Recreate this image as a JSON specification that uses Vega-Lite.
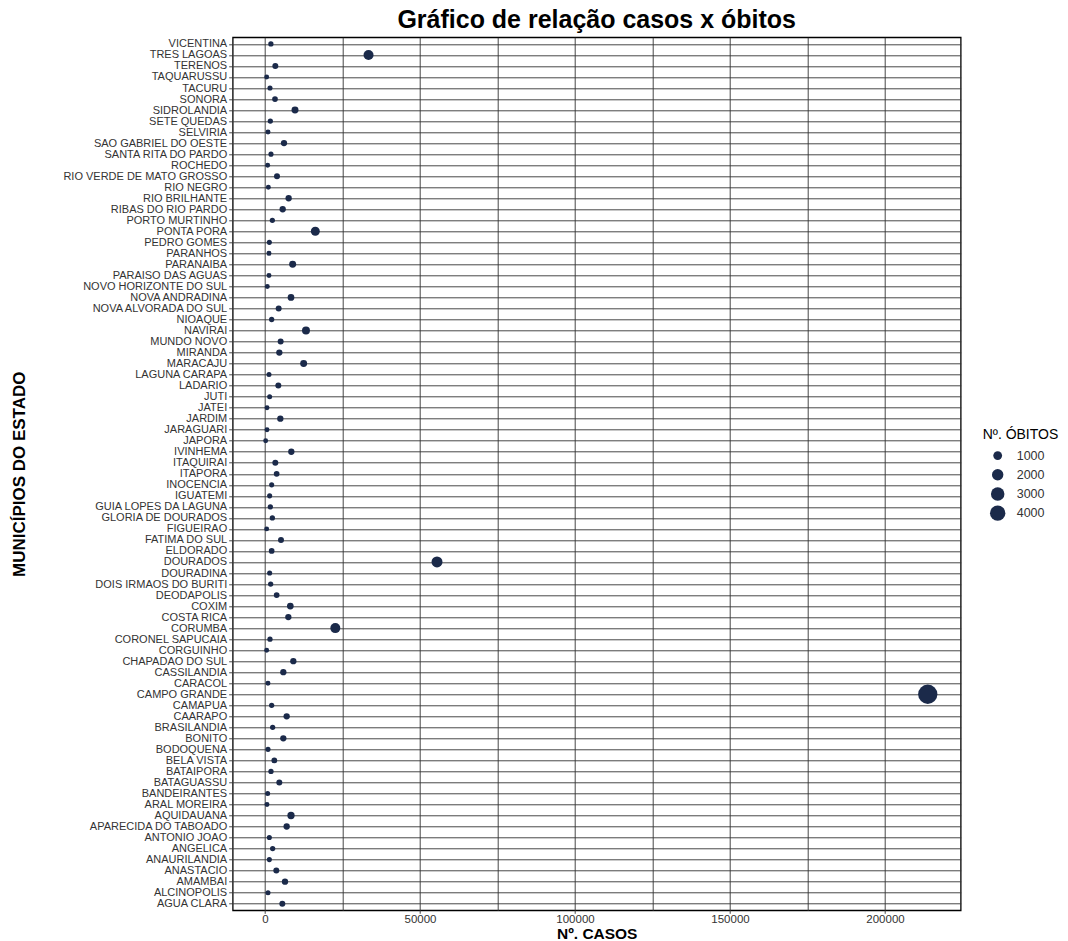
{
  "$schema": "https://vega.github.io/schema/vega-lite/v6.json",
  "width": 728,
  "height": 873,
  "autosize": {"type": "none"},
  "padding": {"left": 232.7, "top": 37.3, "right": 107, "bottom": 31},
  "background": "white",
  "title": {"text": "Gráfico de relação casos x óbitos", "fontSize": 25, "font": "Liberation Sans", "fontWeight": "bold", "color": "black", "anchor": "middle", "offset": 4},
  "data": {"values": [
    {"municipio": "VICENTINA", "casos": 1900, "obitos": 75},
    {"municipio": "TRES LAGOAS", "casos": 33400, "obitos": 1430},
    {"municipio": "TERENOS", "casos": 3330, "obitos": 226},
    {"municipio": "TAQUARUSSU", "casos": 540, "obitos": 10},
    {"municipio": "TACURU", "casos": 1610, "obitos": 40},
    {"municipio": "SONORA", "casos": 3225, "obitos": 160},
    {"municipio": "SIDROLANDIA", "casos": 9680, "obitos": 470},
    {"municipio": "SETE QUEDAS", "casos": 1720, "obitos": 75},
    {"municipio": "SELVIRIA", "casos": 970, "obitos": 10},
    {"municipio": "SAO GABRIEL DO OESTE", "casos": 6130, "obitos": 300},
    {"municipio": "SANTA RITA DO PARDO", "casos": 1930, "obitos": 40},
    {"municipio": "ROCHEDO", "casos": 860, "obitos": 10},
    {"municipio": "RIO VERDE DE MATO GROSSO", "casos": 3870, "obitos": 226},
    {"municipio": "RIO NEGRO", "casos": 1080, "obitos": 10},
    {"municipio": "RIO BRILHANTE", "casos": 7630, "obitos": 300},
    {"municipio": "RIBAS DO RIO PARDO", "casos": 5700, "obitos": 300},
    {"municipio": "PORTO MURTINHO", "casos": 2370, "obitos": 75},
    {"municipio": "PONTA PORA", "casos": 16230, "obitos": 1075},
    {"municipio": "PEDRO GOMES", "casos": 1400, "obitos": 40},
    {"municipio": "PARANHOS", "casos": 1290, "obitos": 15},
    {"municipio": "PARANAIBA", "casos": 8920, "obitos": 470},
    {"municipio": "PARAISO DAS AGUAS", "casos": 1290, "obitos": 15},
    {"municipio": "NOVO HORIZONTE DO SUL", "casos": 750, "obitos": 10},
    {"municipio": "NOVA ANDRADINA", "casos": 8390, "obitos": 400},
    {"municipio": "NOVA ALVORADA DO SUL", "casos": 4410, "obitos": 226},
    {"municipio": "NIOAQUE", "casos": 2150, "obitos": 75},
    {"municipio": "NAVIRAI", "casos": 13220, "obitos": 755},
    {"municipio": "MUNDO NOVO", "casos": 5050, "obitos": 226},
    {"municipio": "MIRANDA", "casos": 4620, "obitos": 300},
    {"municipio": "MARACAJU", "casos": 12470, "obitos": 470},
    {"municipio": "LAGUNA CARAPA", "casos": 1290, "obitos": 20},
    {"municipio": "LADARIO", "casos": 4300, "obitos": 226},
    {"municipio": "JUTI", "casos": 1500, "obitos": 20},
    {"municipio": "JATEI", "casos": 650, "obitos": 10},
    {"municipio": "JARDIM", "casos": 4950, "obitos": 300},
    {"municipio": "JARAGUARI", "casos": 650, "obitos": 10},
    {"municipio": "JAPORA", "casos": 215, "obitos": 5},
    {"municipio": "IVINHEMA", "casos": 8490, "obitos": 300},
    {"municipio": "ITAQUIRAI", "casos": 3330, "obitos": 226},
    {"municipio": "ITAPORA", "casos": 3760, "obitos": 160},
    {"municipio": "INOCENCIA", "casos": 2150, "obitos": 40},
    {"municipio": "IGUATEMI", "casos": 1500, "obitos": 40},
    {"municipio": "GUIA LOPES DA LAGUNA", "casos": 1720, "obitos": 75},
    {"municipio": "GLORIA DE DOURADOS", "casos": 2370, "obitos": 75},
    {"municipio": "FIGUEIRAO", "casos": 540, "obitos": 5},
    {"municipio": "FATIMA DO SUL", "casos": 5160, "obitos": 226},
    {"municipio": "ELDORADO", "casos": 2150, "obitos": 160},
    {"municipio": "DOURADOS", "casos": 55490, "obitos": 1830},
    {"municipio": "DOURADINA", "casos": 1500, "obitos": 40},
    {"municipio": "DOIS IRMAOS DO BURITI", "casos": 1830, "obitos": 75},
    {"municipio": "DEODAPOLIS", "casos": 3760, "obitos": 160},
    {"municipio": "COXIM", "casos": 8170, "obitos": 400},
    {"municipio": "COSTA RICA", "casos": 7530, "obitos": 300},
    {"municipio": "CORUMBA", "casos": 22680, "obitos": 1430},
    {"municipio": "CORONEL SAPUCAIA", "casos": 1610, "obitos": 75},
    {"municipio": "CORGUINHO", "casos": 540, "obitos": 10},
    {"municipio": "CHAPADAO DO SUL", "casos": 9140, "obitos": 300},
    {"municipio": "CASSILANDIA", "casos": 5910, "obitos": 300},
    {"municipio": "CARACOL", "casos": 970, "obitos": 15},
    {"municipio": "CAMPO GRANDE", "casos": 213800, "obitos": 6570},
    {"municipio": "CAMAPUA", "casos": 2150, "obitos": 75},
    {"municipio": "CAARAPO", "casos": 6990, "obitos": 300},
    {"municipio": "BRASILANDIA", "casos": 2470, "obitos": 75},
    {"municipio": "BONITO", "casos": 5910, "obitos": 300},
    {"municipio": "BODOQUENA", "casos": 970, "obitos": 40},
    {"municipio": "BELA VISTA", "casos": 3010, "obitos": 160},
    {"municipio": "BATAIPORA", "casos": 1930, "obitos": 75},
    {"municipio": "BATAGUASSU", "casos": 4620, "obitos": 226},
    {"municipio": "BANDEIRANTES", "casos": 860, "obitos": 20},
    {"municipio": "ARAL MOREIRA", "casos": 650, "obitos": 15},
    {"municipio": "AQUIDAUANA", "casos": 8390, "obitos": 550},
    {"municipio": "APARECIDA DO TABOADO", "casos": 6990, "obitos": 300},
    {"municipio": "ANTONIO JOAO", "casos": 1400, "obitos": 40},
    {"municipio": "ANGELICA", "casos": 2470, "obitos": 75},
    {"municipio": "ANAURILANDIA", "casos": 1400, "obitos": 40},
    {"municipio": "ANASTACIO", "casos": 3650, "obitos": 226},
    {"municipio": "AMAMBAI", "casos": 6450, "obitos": 300},
    {"municipio": "ALCINOPOLIS", "casos": 970, "obitos": 20},
    {"municipio": "AGUA CLARA", "casos": 5590, "obitos": 226}
  ]},
  "mark": {"type": "circle", "color": "#1B2A4A", "opacity": 1},
  "encoding": {
    "x": {
      "field": "casos", "type": "quantitative",
      "scale": {"domain": [-10420, 224420], "nice": false, "zero": false},
      "axis": {
        "title": "Nº. CASOS",
        "values": [0, 25000, 50000, 75000, 100000, 125000, 150000, 175000, 200000],
        "format": "d",
        "labelExpr": "datum.value % 50000 === 0 ? datum.label : ''",
        "tickOpacity": {"condition": {"test": "datum.value % 50000 !== 0", "value": 0}, "value": 1},
        "grid": true,
        "labelFontSize": 11.5,
        "labelPadding": 0,
        "tickSize": 3,
        "titleFontSize": 15.5,
        "titleX": 364, "titleY": 22.9, "titleBaseline": "middle", "titleAlign": "center"
      }
    },
    "y": {
      "field": "municipio", "type": "nominal", "sort": null,
      "scale": {"type": "point", "padding": 0.6},
      "axis": {
        "title": "MUNICÍPIOS  DO ESTADO",
        "grid": true,
        "labelOverlap": false,
        "labelLimit": 400,
        "labelFontSize": 11,
        "titleFontSize": 17,
        "titleX": -212.7, "titleY": 436.5, "titleAngle": 270, "titleBaseline": "middle", "titleAlign": "center"
      }
    },
    "size": {
      "field": "obitos", "type": "quantitative",
      "scale": {"type": "linear", "domain": [0, 7000], "range": [24, 395], "zero": false},
      "legend": {
        "title": "Nº. ÓBITOS",
        "values": [1000, 2000, 3000, 4000],
        "format": "d",
        "orient": "none", "legendX": 750, "legendY": 391,
        "symbolType": "circle", "symbolFillColor": "#1B2A4A", "symbolStrokeWidth": 0,
        "symbolOffset": 7,
        "clipHeight": 17.5,
        "titleFontSize": 14, "titleFontWeight": "normal", "titleColor": "black", "titleFont": "Liberation Sans",
        "labelFontSize": 12.5, "labelColor": "#333333", "labelFont": "Liberation Sans",
        "labelOffset": 11, "rowPadding": 1.2, "titlePadding": 4.5
      }
    }
  },
  "config": {
    "view": {"stroke": "black", "strokeWidth": 1.3},
    "axis": {
      "domain": false,
      "gridColor": "#333333", "gridWidth": 0.9, "gridOpacity": 1,
      "tickColor": "#333333", "tickSize": 4, "tickWidth": 0.9,
      "labelFont": "Liberation Sans", "labelColor": "#333333", "labelPadding": 2,
      "titleFont": "Liberation Sans", "titleFontWeight": "bold", "titleColor": "black"
    }
  }
}
